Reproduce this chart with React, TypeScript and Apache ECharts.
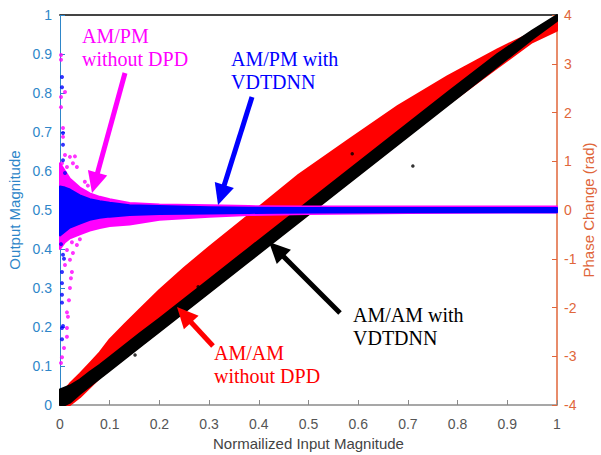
import React, { useEffect, useRef } from "react";
import * as echarts from "echarts";

// ---------- Data ----------
// AM/AM bands (Output Magnitude, left axis)
const amX = [0, 0.01, 0.02, 0.04, 0.06, 0.08, 0.1, 0.13, 0.16, 0.2, 0.25, 0.3, 0.38, 0.48, 0.58, 0.68, 0.78, 0.88, 0.95, 1.0];
const redHi = [0.01, 0.04, 0.055, 0.08, 0.107, 0.135, 0.168, 0.207, 0.245, 0.295, 0.352, 0.405, 0.487, 0.59, 0.679, 0.767, 0.843, 0.912, 0.955, 0.995];
const redLo = [0, 0, 0, 0.02, 0.045, 0.07, 0.09, 0.12, 0.15, 0.19, 0.24, 0.29, 0.37, 0.47, 0.57, 0.67, 0.77, 0.865, 0.93, 0.96];
const blackHi = [0.04, 0.045, 0.05, 0.065, 0.085, 0.103, 0.123, 0.153, 0.183, 0.222, 0.272, 0.322, 0.402, 0.502, 0.602, 0.702, 0.802, 0.9, 0.96, 1.0];
const blackLo = [0, 0, 0.006, 0.028, 0.048, 0.068, 0.088, 0.118, 0.148, 0.188, 0.238, 0.288, 0.368, 0.468, 0.568, 0.668, 0.768, 0.868, 0.938, 0.985];
const blackDots = [[0.151, 0.128], [0.278, 0.303], [0.588, 0.644], [0.71, 0.613]];

// AM/PM bands (Phase Change in rad, right axis)
const pmX = [0, 0.01, 0.02, 0.04, 0.06, 0.08, 0.1, 0.14, 0.2, 0.3, 0.38, 0.5, 0.7, 1.0];
const blueHi = [0.48, 0.46, 0.42, 0.3, 0.22, 0.18, 0.15, 0.1, 0.08, 0.056, 0.045, 0.04, 0.04, 0.04];
const blueLo = [-0.52, -0.44, -0.36, -0.28, -0.2, -0.16, -0.136, -0.104, -0.08, -0.07, -0.06, -0.05, -0.045, -0.045];
const magentaHi = [0.96, 0.8, 0.64, 0.46, 0.34, 0.27, 0.22, 0.144, 0.112, 0.096, 0.08, 0.072, 0.072, 0.072];
const magentaLo = [-0.8, -0.66, -0.58, -0.5, -0.42, -0.37, -0.33, -0.3, -0.2, -0.136, -0.104, -0.08, -0.06, -0.05];

const magentaDots = [
  [0.002, 3.18], [0.002, 3.08], [0.01, 2.42], [0.002, 2.32], [0.002, 2.11], [0.006, 1.68], [0.006, 1.5],
  [0.01, 1.13], [0.02, 1.09], [0.03, 1.1], [0.004, 0.96], [0.014, 0.88], [0.034, 0.88], [0.026, 0.96],
  [0.05, 0.58], [0.056, 0.5], [0.024, -0.66], [0.014, -0.82], [0.026, -0.88], [0.02, -1.02], [0.01, -1.13],
  [0.024, -1.27], [0.014, -2.1], [0.016, -2.19], [0.014, -2.42], [0.008, -2.83], [0.004, -3.02],
  [0.002, -3.14], [0.014, -2.6], [0.02, -1.6], [0.034, -0.72], [0.04, -0.6], [0.022, -1.4], [0.018, -1.85],
];
const blueDots = [
  [0.004, 2.73], [0.004, 2.52], [0.006, 1.58], [0.006, 1.34], [0.01, 0.76], [0.006, 1.02], [0.006, -0.92],
  [0.004, -1.27], [0.004, -1.5], [0.004, -1.74], [0.004, -1.9], [0.004, -2.42], [0.006, -2.38], [0.004, -2.65],
  [0.008, -1.0], [0.002, -0.7],
];

const xLabelName = "Normailized Input Magnitude";
const leftName = "Output Magnitude";
const rightName = "Phase Change (rad)";

const LEFT_C = "#2e86c9";
const RIGHT_C = "#e0663a";

function bandSeries(name: string, xs: number[], lo: number[], hi: number[], color: string, yAxisIndex: number) {
  return {
    type: "custom",
    name,
    coordinateSystem: "cartesian2d",
    xAxisIndex: 0,
    yAxisIndex,
    data: xs.map((x, i) => [x, lo[i], hi[i]]),
    encode: { x: 0, y: [1, 2] },
    renderItem: (params: any, api: any) => {
      if (params.dataIndex !== 0) return { type: "group", children: [] };
      const pts: number[][] = [];
      for (let i = 0; i < xs.length; i++) pts.push(api.coord([xs[i], hi[i]]));
      for (let i = xs.length - 1; i >= 0; i--) pts.push(api.coord([xs[i], lo[i]]));
      return {
        type: "polygon",
        shape: { points: pts },
        style: { fill: color, stroke: color, lineWidth: 2, lineJoin: "round" },
      };
    },
  };
}

function arrow(tail: number[], tip: number[], color: string) {
  const dx = tip[0] - tail[0];
  const dy = tip[1] - tail[1];
  const len = Math.hypot(dx, dy);
  const ux = dx / len, uy = dy / len;
  const hl = 21, hw = 10;
  const bx = tip[0] - ux * hl, by = tip[1] - uy * hl;
  const px = -uy, py = ux;
  return [
    { type: "line", z: 100, shape: { x1: tail[0], y1: tail[1], x2: bx + ux * 3, y2: by + uy * 3 }, style: { stroke: color, lineWidth: 5 } },
    { type: "polygon", z: 100, shape: { points: [[tip[0], tip[1]], [bx + px * hw, by + py * hw], [bx - px * hw, by - py * hw]] }, style: { fill: color } },
  ];
}

function label(text: string, x: number, y: number, color: string) {
  return {
    type: "text",
    z: 100,
    x,
    y,
    style: { text, fill: color, fontSize: 20, fontFamily: "'Liberation Serif', 'Times New Roman', serif", lineHeight: 23, verticalAlign: "top" },
  };
}

export default function App() {
  const ref = useRef<HTMLDivElement>(null);
  useEffect(() => {
    document.body.style.margin = "0";
    const chart = echarts.init(ref.current!, null, { renderer: "svg" });
    const sans = "'Liberation Sans', Arial, Helvetica, sans-serif";
    chart.setOption({
      animation: false,
      backgroundColor: "#fff",
      grid: { left: 60, right: 44, top: 15, bottom: 50, containLabel: false, outerBoundsMode: "none" },
      xAxis: [
        {
          type: "value", min: 0, max: 1, interval: 0.1, position: "bottom",
          name: xLabelName, nameLocation: "middle", nameGap: 31,
          nameTextStyle: { color: "#444", fontSize: 15, fontFamily: sans },
          axisLine: { show: true, onZero: false, lineStyle: { color: "#8a8a8a", width: 1.5 } },
          axisTick: { show: true, inside: true, length: 5, lineStyle: { color: "#8a8a8a" } },
          axisLabel: { color: "#555", fontSize: 14, margin: 12, fontFamily: sans },
          splitLine: { show: false },
        },
        {
          type: "value", min: 0, max: 1, position: "top",
          axisLine: { show: true, onZero: false, lineStyle: { color: "#444", width: 2 } },
          axisTick: { show: false }, axisLabel: { show: false }, splitLine: { show: false },
        },
      ],
      yAxis: [
        {
          type: "value", min: 0, max: 1, interval: 0.1, position: "left",
          name: leftName, nameLocation: "middle", nameGap: 38, nameRotate: 90,
          nameTextStyle: { color: LEFT_C, fontSize: 15, fontFamily: sans },
          axisLine: { show: true, onZero: false, lineStyle: { color: LEFT_C, width: 1 } },
          axisTick: { show: true, inside: true, length: 5, lineStyle: { color: LEFT_C } },
          axisLabel: { color: LEFT_C, fontSize: 14, margin: 8, fontFamily: sans },
          splitLine: { show: false },
        },
        {
          type: "value", min: -4, max: 4, interval: 1, position: "right",
          axisLine: { show: true, onZero: false, lineStyle: { color: RIGHT_C, width: 1.5 } },
          axisTick: { show: true, inside: true, length: 5, lineStyle: { color: RIGHT_C } },
          axisLabel: { color: RIGHT_C, fontSize: 14, margin: 7, fontFamily: sans },
          splitLine: { show: false },
        },
      ],
      series: [
        bandSeries("AM/AM without DPD", amX, redLo, redHi, "#ff0000", 0),
        bandSeries("AM/AM with VDTDNN", amX, blackLo, blackHi, "#000000", 0),
        { type: "scatter", name: "AM/AM with VDTDNN dots", xAxisIndex: 0, yAxisIndex: 0, data: blackDots, symbolSize: 3.5, itemStyle: { color: "#000" } },
        bandSeries("AM/PM without DPD", pmX, magentaLo, magentaHi, "#ff00ff", 1),
        { type: "scatter", name: "AM/PM without DPD dots", xAxisIndex: 0, yAxisIndex: 1, data: magentaDots, symbolSize: 4, itemStyle: { color: "#ff00ff" } },
        bandSeries("AM/PM with VDTDNN", pmX, blueLo, blueHi, "#0000ff", 1),
        { type: "scatter", name: "AM/PM with VDTDNN dots", xAxisIndex: 0, yAxisIndex: 1, data: blueDots, symbolSize: 4, itemStyle: { color: "#0000ff" } },
      ],
      graphic: [
        {
          type: "text", x: 588, y: 210, rotation: Math.PI / 2,
          style: { text: rightName, fill: RIGHT_C, fontSize: 15, fontFamily: sans, align: "center", verticalAlign: "middle" },
        },
        label("AM/PM\nwithout DPD", 82, 24, "#ff00ff"),
        label("AM/PM with\nVDTDNN", 231, 47, "#0000ff"),
        label("AM/AM\nwithout DPD", 214, 341, "#ff0000"),
        label("AM/AM with\nVDTDNN", 353, 303, "#000000"),
        ...arrow([125, 73], [92, 193], "#ff00ff"),
        ...arrow([252, 97], [218, 205], "#0000ff"),
        ...arrow([213, 346], [177, 307], "#ff0000"),
        ...arrow([340, 313], [269, 242], "#000000"),
      ],
    });
    return () => chart.dispose();
  }, []);
  return <div ref={ref} style={{ width: 601, height: 455 }} />;
}
